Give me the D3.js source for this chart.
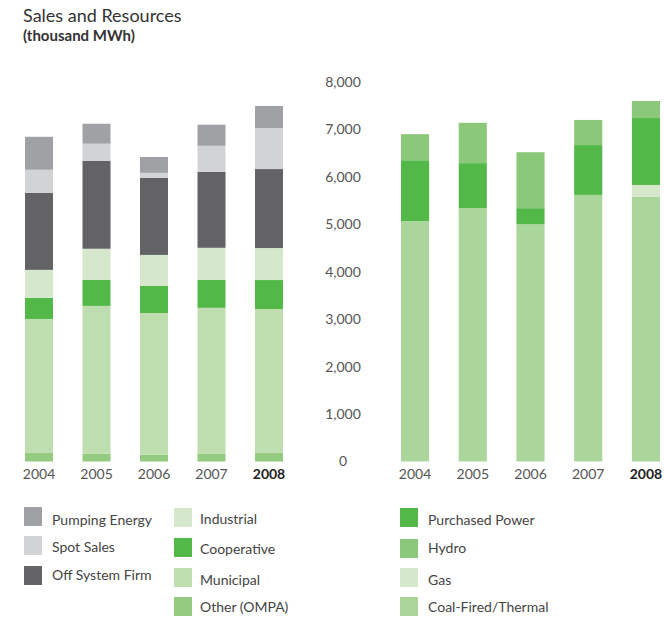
<!DOCTYPE html>
<html>
<head>
<meta charset="utf-8">
<script src="https://cdn.jsdelivr.net/npm/d3@7"></script>
<style>
  body { margin: 0; background: #fff; }
  svg text { font-family: Lato, "Open Sans", sans-serif; }
</style>
</head>
<body>
<svg id="chart"></svg>
<script>
// Data (thousand MWh)
var years = ['2004', '2005', '2006', '2007', '2008'];

// Sales
var pumpingEnergy = [695, 420, 335, 445, 465];
var spotSales     = [485, 360, 105, 550, 865];
var offSystemFirm = [1625, 1855, 1625, 1600, 1665];
var industrial    = [590, 655, 655, 675, 675];
var cooperative   = [445, 550, 570, 590, 610];
var municipal     = [2825, 3120, 2990, 3080, 3035];
var otherOmpa     = [180, 160, 140, 160, 180];

// Resources
var purchasedPower = [1280, 950, 340, 1050, 1410];
var hydro          = [550, 850, 1180, 530, 360];
var gas            = [0, 0, 0, 0, 250];
var coalThermal    = [5070, 5340, 5000, 5620, 5580];

var yTicks = [0, 1000, 2000, 3000, 4000, 5000, 6000, 7000, 8000];

var width = 664,
    height = 619;

var svg = d3.select('#chart')
    .attr('width', width)
    .attr('height', height);

// Title
svg.append('text')
    .attr('x', 23).attr('y', 22)
    .style('font-size', '18px')
    .style('fill', '#333')
    .text('Sales and Resources');
svg.append('text')
    .attr('x', 23).attr('y', 41)
    .style('font-size', '15px')
    .style('font-weight', 'bold')
    .style('fill', '#333')
    .text('(thousand MWh)');

// Shared value scale
var y = d3.scaleLinear()
    .domain([0, 8000])
    .range([461.5, 82]);

// Series, bottom to top
var salesSeries = [
    { name: 'Other (OMPA)', values: otherOmpa, color: '#94cb81' },
    { name: 'Municipal', values: municipal, color: '#bfdeb0' },
    { name: 'Cooperative', values: cooperative, color: '#52b848' },
    { name: 'Industrial', values: industrial, color: '#d5e8cc' },
    { name: 'Off System Firm', values: offSystemFirm, color: '#636365' },
    { name: 'Spot Sales', values: spotSales, color: '#d2d3d5' },
    { name: 'Pumping Energy', values: pumpingEnergy, color: '#a0a1a4' }
];
var resourceSeries = [
    { name: 'Coal-Fired/Thermal', values: coalThermal, color: '#abd69b' },
    { name: 'Gas', values: gas, color: '#d5e8cc' },
    { name: 'Purchased Power', values: purchasedPower, color: '#52b848' },
    { name: 'Hydro', values: hydro, color: '#8cc87a' }
];

function drawStack(series, x0, x1) {
    var x = d3.scaleBand()
        .domain(years)
        .range([x0, x1])
        .paddingInner(0.513)
        .paddingOuter(0);

    var rows = years.map(function (yr, i) {
        var r = { year: yr };
        series.forEach(function (s) { r[s.name] = s.values[i]; });
        return r;
    });

    var stack = d3.stack().keys(series.map(function (s) { return s.name; }));
    var layers = stack(rows);

    var g = svg.append('g');
    g.selectAll('g')
        .data(layers)
        .enter().append('g')
        .style('fill', function (d, i) { return series[i].color; })
        .selectAll('rect')
        .data(function (d) { return d; })
        .enter().append('rect')
        .attr('x', function (d) { return x(d.data.year); })
        .attr('width', x.bandwidth())
        .attr('y', function (d) { return y(d[1]); })
        .attr('height', function (d) { return y(d[0]) - y(d[1]); });

    // Year labels
    var ax = svg.append('g')
        .attr('transform', 'translate(0,' + 461.5 + ')')
        .call(d3.axisBottom(x).tickSize(0).tickPadding(8));
    ax.select('.domain').remove();
    ax.selectAll('text')
        .style('font-family', 'Lato, "Open Sans", sans-serif')
        .style('font-size', '14px')
        .style('fill', function (d) { return d === '2008' ? '#222' : '#555'; })
        .style('font-weight', function (d) { return d === '2008' ? 'bold' : 'normal'; });
}

drawStack(salesSeries, 25, 283);
drawStack(resourceSeries, 401, 660);

// Right value axis
var yAxis = svg.append('g')
    .attr('transform', 'translate(343,0)')
    .call(d3.axisLeft(y).tickValues(yTicks).tickSize(0).tickPadding(0).tickFormat(d3.format(',')));
yAxis.select('.domain').remove();
yAxis.selectAll('text')
    .attr('text-anchor', 'middle')
    .style('font-family', 'Lato, "Open Sans", sans-serif')
    .style('font-size', '14px')
    .style('fill', '#555');

// Legends
function legend(items, sx, tx, ys) {
    var lg = svg.append('g');
    items.forEach(function (it, i) {
        lg.append('rect')
            .attr('x', sx).attr('y', ys[i][0])
            .attr('width', 18).attr('height', 19)
            .style('fill', it.color);
        lg.append('text')
            .attr('x', tx).attr('y', ys[i][1])
            .attr('dy', '0.35em')
            .style('font-size', '14px')
            .style('fill', '#444')
            .text(it.name);
    });
}

var byName = {};
salesSeries.concat(resourceSeries).forEach(function (s) { byName[s.name] = s; });

legend([byName['Pumping Energy'], byName['Spot Sales'], byName['Off System Firm']],
    24, 52, [[507, 520], [536, 547], [566, 575]]);
legend([byName['Industrial'], byName['Cooperative'], byName['Municipal'], byName['Other (OMPA)']],
    174, 200, [[508, 519], [538, 549], [568, 580], [597, 607]]);
legend([byName['Purchased Power'], byName['Hydro'], byName['Gas'], byName['Coal-Fired/Thermal']],
    400, 428, [[508, 520], [539, 548], [568, 580], [597, 607]]);
</script>
</body>
</html>
